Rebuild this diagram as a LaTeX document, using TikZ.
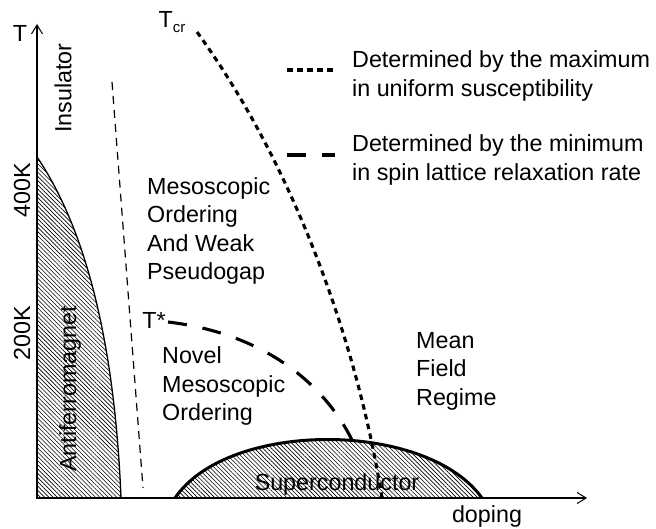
\documentclass[tikz,border=0pt]{standalone}
\usepackage{fontspec}
\setmainfont{Liberation Sans}
\usetikzlibrary{arrows.meta,patterns.meta,positioning}

\begin{document}
\begin{tikzpicture}[x=1pt, y=-1pt,
		every node/.style={font=\fontsize{23.3}{28.5}\selectfont},
		region/.style={
			inner sep=0pt,
			anchor=west,
			align=left
		},
		axislabel/.style={
			inner sep=0pt,
			rotate=90
		},
		hatched/.style={
			pattern={Lines[angle=-45,distance=3pt,line width=0.6pt]},
			pattern color=black
		},
		axis/.style={line width=1.4pt, -{Straight Barb[length=9pt,width=11pt,line width=1pt]}},
		tcr line/.style={line width=3.1pt, dash pattern=on 5.5pt off 4.5pt},
		tstar line/.style={line width=3.1pt, dash pattern=on 19pt off 16pt},
		guide line/.style={line width=1.2pt, dash pattern=on 8pt off 6pt}]

	% fix the picture size
	\useasboundingbox (0,0) rectangle (656,529);

	% Antiferromagnet and superconductor regions
	\fill [hatched] (37,498) -- (37,157) .. controls (88,232) and (115,350) .. (121,498) -- cycle;
	\draw [line width=1.3pt] (37,157) .. controls (88,232) and (115,350) .. (121,498);

	\fill [hatched] (175,498) .. controls (228,420) and (426,420) .. (482,498) -- cycle;
	\draw [line width=3pt] (175,498) .. controls (228,420) and (426,420) .. (482,498);

	%% Crossover lines
	\draw [guide line] (112,82) -- (143,488);
	\draw [tcr line] (197,32) .. controls (290,160) and (356,335) .. (382,498);
	\draw [tstar line] (168,322) .. controls (260,333) and (322,380) .. (352,440);

	%% Axes
	\draw [axis] (36,498) -- (587,498);
	\draw [axis] (37,499) -- (37,24);

	%% Axis labels
	\node (tAxis) at (20,33) {T};
	\node (doping) at (487,516) {doping};
	\node [axislabel] (k400) at (22,190) {400K};
	\node [axislabel] (k200) at (22,333) {200K};

	%% Phase labels
	\node [axislabel] (insulator) at (63,88) {Insulator};
	\node [axislabel] (afm) at (70,389) {Antiferromagnet};
	\node (supercond) at (337,484) {Superconductor};
	\node [region] (pseudogap) at (147,231) {Mesoscopic\\Ordering\\And Weak\\Pseudogap};
	\node [region] (novel) at (162,386) {Novel\\Mesoscopic\\Ordering};
	\node [region] (meanfield) at (416,371) {Mean\\Field\\Regime};

	%% Line names
	\node [inner sep=0pt] (tcr) at (172,22) {T\raisebox{-0.35ex}{\fontsize{15}{15}\selectfont cr}};
	\node [inner sep=0pt] (tstar) at (154,320) {T*};

	%% Legend
	\node [region] (maxlabel) at (352,76) {Determined by the maximum\\in uniform susceptibility};
	\node [region] (minlabel) at (352,160) {Determined by the minimum\\in spin lattice relaxation rate};
	\draw [tcr line] ([shift={(-65pt,6pt)}]maxlabel.west) -- ([shift={(-17pt,6pt)}]maxlabel.west);
	\draw [tstar line] ([shift={(-65pt,5pt)}]minlabel.west) -- ([shift={(-17pt,5pt)}]minlabel.west);
\end{tikzpicture}
\end{document}
